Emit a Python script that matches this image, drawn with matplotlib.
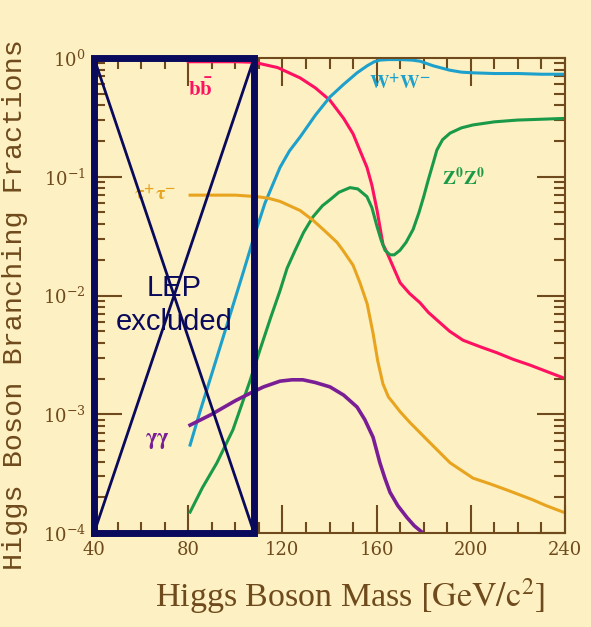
import numpy as np
import matplotlib
matplotlib.use('Agg')
import matplotlib.pyplot as plt
from matplotlib.ticker import MultipleLocator, LogLocator, NullFormatter

plt.rcParams['mathtext.fontset'] = 'stix'

# branching fractions (mass in GeV, BR)
bb_m = [80, 90, 100, 108, 118, 127.5, 134, 140.2, 146, 150, 153, 155.9, 158, 160.2, 162.7, 164.4, 167, 170, 174, 178.4, 182, 186.9, 191, 196.7, 204, 211, 218, 225, 232, 240]
bb_v = [0.93, 0.93, 0.93, 0.92, 0.83, 0.68, 0.56, 0.44, 0.31, 0.23, 0.165, 0.12, 0.085, 0.052, 0.027, 0.023, 0.0175, 0.0128, 0.0104, 0.0087, 0.0072, 0.0059, 0.005, 0.0042, 0.0037, 0.0033, 0.0029, 0.0026, 0.0023, 0.0020]
ww_m = [80.8, 85, 90.5, 97.7, 103.3, 107.9, 112.6, 119, 123, 127.5, 134, 140.2, 146, 151.7, 156, 159, 161.4, 165, 170, 175, 178.4, 184, 191, 196, 201, 210, 220, 230, 240]
ww_v = [5.5e-4, 1.05e-3, 2.35e-3, 6.8e-3, 0.0155, 0.031, 0.06, 0.12, 0.165, 0.216, 0.33, 0.47, 0.6, 0.75, 0.86, 0.93, 0.96, 0.97, 0.97, 0.96, 0.94, 0.86, 0.79, 0.76, 0.75, 0.74, 0.74, 0.73, 0.73]
zz_m = [80.8, 86, 92.2, 99, 106.2, 110.5, 115, 119, 122, 125.4, 129, 133, 137, 140.2, 144, 148.7, 152, 155.9, 158, 160.2, 162, 163.6, 165.7, 167.5, 169.9, 172.5, 175.5, 178, 180, 182, 184, 185.6, 188, 191.2, 196, 200.9, 210, 219.6, 230, 240]
zz_v = [1.5e-4, 2.4e-4, 3.9e-4, 7.4e-4, 1.9e-3, 3.5e-3, 6.5e-3, 0.011, 0.017, 0.024, 0.034, 0.046, 0.057, 0.064, 0.074, 0.081, 0.079, 0.068, 0.055, 0.038, 0.029, 0.024, 0.022, 0.022, 0.024, 0.028, 0.036, 0.05, 0.068, 0.095, 0.13, 0.168, 0.205, 0.233, 0.258, 0.273, 0.29, 0.30, 0.305, 0.31]
tt_m = [80.8, 90, 100, 109.2, 114, 119, 127.5, 133, 138, 143.2, 145.7, 150, 153, 156, 158.5, 160.5, 162.7, 165, 167, 170, 174.2, 181.4, 191.2, 200.9, 208, 215.4, 226.4, 232, 239.2]
tt_v = [0.07, 0.07, 0.07, 0.068, 0.066, 0.062, 0.052, 0.043, 0.035, 0.028, 0.024, 0.018, 0.0127, 0.0085, 0.0048, 0.0028, 0.0018, 0.0014, 0.00125, 0.00105, 8.5e-4, 6.1e-4, 3.9e-4, 2.9e-4, 2.6e-4, 2.3e-4, 1.9e-4, 1.7e-4, 1.5e-4]
gg_m = [80.8, 90, 100, 106.2, 112, 119, 124, 128.7, 134, 140.2, 146, 151.7, 155, 158.5, 161.4, 163.5, 165.7, 169, 172.9, 176, 179.7]
gg_v = [8.1e-4, 1.0e-3, 1.3e-3, 1.5e-3, 1.7e-3, 1.9e-3, 1.95e-3, 1.95e-3, 1.85e-3, 1.7e-3, 1.45e-3, 1.15e-3, 9e-4, 6.4e-4, 3.9e-4, 2.9e-4, 2.2e-4, 1.7e-4, 1.35e-4, 1.15e-4, 1.0e-4]

lep_lo, lep_hi = 40, 108

BG = '#fdf0c2'; BROWN = '#6e4a1c'; NAVY = '#0a0a5c'
fig = plt.figure(figsize=(5.91, 6.27), dpi=100, facecolor=BG)
ax = fig.add_axes([94/591, 94/627, 471/591, 475/627], facecolor=BG)

ax.plot(bb_m, bb_v, color='#ff1060', lw=2.2)
ax.plot(ww_m, ww_v, color='#1ea0cc', lw=2.2)
ax.plot(zz_m, zz_v, color='#1a9a48', lw=2.2)
ax.plot(tt_m, tt_v, color='#e8a41e', lw=2.2)
ax.plot(gg_m, gg_v, color='#7a1e96', lw=2.6)

ax.set_yscale('log')
ax.set_xlim(40, 240); ax.set_ylim(1e-4, 1)
ax.xaxis.set_major_locator(MultipleLocator(40)); ax.xaxis.set_minor_locator(MultipleLocator(10))
ax.yaxis.set_major_locator(LogLocator(base=10, numticks=10))
ax.yaxis.set_minor_locator(LogLocator(base=10, subs=np.arange(2, 10), numticks=10))
ax.yaxis.set_minor_formatter(NullFormatter())
ax.tick_params(which='both', direction='in', top=True, right=True, color=BROWN, width=1.5, labelcolor=BROWN)
ax.tick_params(which='major', length=20, labelsize=13, pad=6)
ax.tick_params(which='minor', length=8)
for s in ax.spines.values():
    s.set_color(BROWN); s.set_linewidth(1.5)
for t in ax.get_xticklabels() + ax.get_yticklabels():
    t.set_family('DejaVu Serif')

ax.set_xlabel(r'Higgs Boson Mass $\left[\mathrm{GeV/c}^{2}\right]$', family='Liberation Serif', fontsize=24.5, color=BROWN)
ax.xaxis.set_label_coords(0.543, -0.092)
ax.set_ylabel('Higgs Boson Branching Fractions', family='Liberation Mono', fontsize=20.5, color=BROWN)
ax.yaxis.set_label_coords(-0.14, 0.48)

# channel labels
ax.text(85, 0.55, r'$\mathbf{b\bar{b}}$', color='#ff1060', fontsize=15, ha='center', va='center')
ax.text(170, 0.6, r'$\mathbf{W^{+}W^{-}}$', color='#1ea0cc', fontsize=14, ha='center', va='center')
ax.text(197, 0.098, r'$\mathbf{Z^{0}Z^{0}}$', color='#1a9a48', fontsize=14, ha='center', va='center')
ax.text(66, 0.07, r'$\mathbf{\tau^{+}\tau^{-}}$', color='#e8a41e', fontsize=14, ha='center', va='center')
ax.text(67, 6.0e-4, r'$\mathbf{\gamma\gamma}$', color='#7a1e96', fontsize=16, ha='center', va='center')

# LEP excluded box with cross
ax.plot([lep_lo, lep_hi, lep_hi, lep_lo, lep_lo], [1e-4, 1e-4, 1, 1, 1e-4], color=NAVY, lw=5, clip_on=False, solid_joinstyle='miter', zorder=5)
ax.plot([lep_lo, lep_hi], [1, 1e-4], color=NAVY, lw=2, zorder=5)
ax.plot([lep_lo, lep_hi], [1e-4, 1], color=NAVY, lw=2, zorder=5)
ax.text((lep_lo + lep_hi) / 2, 0.0083, 'LEP\nexcluded', color=NAVY, fontsize=21, family='Liberation Sans', ha='center', va='center', linespacing=1.3, zorder=6)

fig.savefig('out.png', dpi=100, facecolor=BG)
